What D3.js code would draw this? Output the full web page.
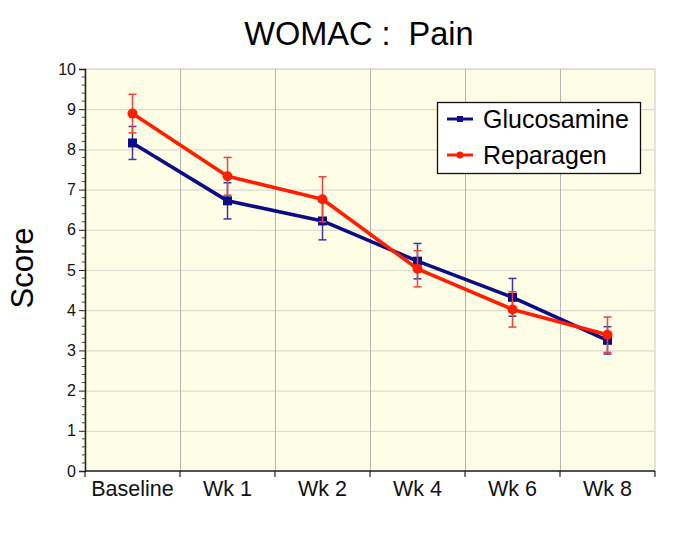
<!DOCTYPE html>
<html>
<head>
<meta charset="utf-8">
<script src="https://cdn.jsdelivr.net/npm/d3@7"></script>
<style>
  html, body { margin: 0; padding: 0; background: #fff; }
  svg { display: block; font-family: "Liberation Sans", Arial, Helvetica, sans-serif; }
</style>
</head>
<body>
<svg id="chart" width="685" height="540"></svg>
<script>
const categories = ["Baseline", "Wk 1", "Wk 2", "Wk 4", "Wk 6", "Wk 8"];
const seriesNames = ["Glucosamine", "Reparagen"];
const glucosamine = [8.16, 6.72, 6.22, 5.22, 4.32, 3.25];
const glucosamineErr = [0.41, 0.45, 0.47, 0.44, 0.47, 0.34];
const reparagen = [8.89, 7.33, 6.76, 5.03, 4.02, 3.39];
const reparagenErr = [0.48, 0.47, 0.56, 0.45, 0.44, 0.44];
const yTicks = [0, 1, 2, 3, 4, 5, 6, 7, 8, 9, 10];

const svg = d3.select("#chart");
const M = { left: 85, right: 655, top: 69, bottom: 471 };

const x = d3.scaleBand().domain(categories).range([M.left, M.right]).padding(0);
const y = d3.scaleLinear().domain([0, 10]).range([M.bottom, M.top]);

// background
svg.append("rect").attr("x", M.left).attr("y", M.top)
  .attr("width", M.right - M.left).attr("height", M.bottom - M.top)
  .attr("fill", "#fefde6").attr("stroke", "#c8c8c0").attr("stroke-width", 1);

// horizontal grid
svg.append("g").selectAll("line").data(yTicks.slice(1)).join("line")
  .attr("x1", M.left).attr("x2", M.right)
  .attr("y1", d => y(d) + 0.5).attr("y2", d => y(d) + 0.5)
  .attr("stroke", "#dcdcd0").attr("stroke-width", 1.2);

// vertical grid at category boundaries
svg.append("g").selectAll("line").data(categories.slice(1)).join("line")
  .attr("x1", d => x(d) + 0.5).attr("x2", d => x(d) + 0.5)
  .attr("y1", M.top).attr("y2", M.bottom)
  .attr("stroke", "#b4b4b0").attr("stroke-width", 1);

// Y axis
const yAxis = d3.axisLeft(y).tickValues(yTicks).tickSize(6).tickPadding(3).tickFormat(d3.format("d"));
const gy = svg.append("g").attr("transform", `translate(${M.left},0)`).call(yAxis);
gy.select(".domain").attr("stroke", "#222").attr("stroke-width", 1.5);
gy.selectAll(".tick line").attr("stroke", "#222");
gy.selectAll(".tick text").attr("font-size", 16).attr("fill", "#111")
  .attr("font-family", "'Liberation Sans', Arial, sans-serif");
// minor ticks
const minor = d3.range(0, 10.001, 0.2).filter(v => Math.abs(v - Math.round(v)) > 0.01);
svg.append("g").selectAll("line").data(minor).join("line")
  .attr("x1", M.left - 3).attr("x2", M.left)
  .attr("y1", d => y(d)).attr("y2", d => y(d))
  .attr("stroke", "#444").attr("stroke-width", 1);

// X axis
const boundaries = categories.map(c => x(c)).concat([M.right]);
svg.append("line").attr("x1", M.left).attr("x2", M.right)
  .attr("y1", M.bottom).attr("y2", M.bottom)
  .attr("stroke", "#222").attr("stroke-width", 1.5);
svg.append("g").selectAll("line").data(boundaries).join("line")
  .attr("x1", d => d).attr("x2", d => d)
  .attr("y1", M.bottom).attr("y2", M.bottom + 6)
  .attr("stroke", "#222").attr("stroke-width", 1.2);
svg.append("g").selectAll("text").data(categories).join("text")
  .attr("x", d => x(d) + x.bandwidth() / 2)
  .attr("y", 496)
  .attr("text-anchor", "middle")
  .attr("font-size", 21.5)
  .attr("fill", "#111")
  .text(d => d);

// series
const series = [
  { name: seriesNames[0], values: glucosamine, err: glucosamineErr, color: "#0c0c86", errColor: "#3a3a9a", marker: "square" },
  { name: seriesNames[1], values: reparagen, err: reparagenErr, color: "#ff1f00", errColor: "#f04040", marker: "circle" }
];
const cx = c => x(c) + x.bandwidth() / 2;
const line = d3.line().x(d => cx(d.c)).y(d => y(d.v));

series.forEach(s => {
  const pts = categories.map((c, i) => ({ c, v: s.values[i], e: s.err[i] }));
  svg.append("path").datum(pts).attr("d", line)
    .attr("fill", "none").attr("stroke", s.color).attr("stroke-width", 3.6)
    .attr("stroke-linejoin", "round");
  const g = svg.append("g");
  g.selectAll("line.v").data(pts).join("line")
    .attr("x1", d => cx(d.c)).attr("x2", d => cx(d.c))
    .attr("y1", d => y(d.v + d.e)).attr("y2", d => y(d.v - d.e))
    .attr("stroke", s.errColor).attr("stroke-width", 1.5);
  [1, -1].forEach(sign => {
    g.selectAll(null).data(pts).join("line")
      .attr("x1", d => cx(d.c) - 4).attr("x2", d => cx(d.c) + 4)
      .attr("y1", d => y(d.v + sign * d.e)).attr("y2", d => y(d.v + sign * d.e))
      .attr("stroke", s.errColor).attr("stroke-width", 1.5);
  });
  if (s.marker === "square") {
    g.selectAll("rect").data(pts).join("rect")
      .attr("x", d => cx(d.c) - 4.5).attr("y", d => y(d.v) - 4.5)
      .attr("width", 9).attr("height", 9).attr("fill", s.color);
  } else {
    g.selectAll("circle").data(pts).join("circle")
      .attr("cx", d => cx(d.c)).attr("cy", d => y(d.v)).attr("r", 5).attr("fill", s.color);
  }
});

// legend
const leg = svg.append("g");
leg.append("rect").attr("x", 437.5).attr("y", 102.5).attr("width", 203).attr("height", 71)
  .attr("fill", "#fff").attr("stroke", "#111").attr("stroke-width", 1.3);
series.forEach((s, i) => {
  const ly = 119 + i * 36;
  leg.append("line").attr("x1", 447).attr("x2", 473).attr("y1", ly).attr("y2", ly)
    .attr("stroke", s.color).attr("stroke-width", 3);
  if (s.marker === "square") {
    leg.append("rect").attr("x", 457).attr("y", ly - 3).attr("width", 6).attr("height", 6).attr("fill", s.color);
  } else {
    leg.append("circle").attr("cx", 460).attr("cy", ly).attr("r", 3.5).attr("fill", s.color);
  }
  leg.append("text").attr("x", 483).attr("y", ly + 9)
    .attr("font-size", 25).attr("fill", "#000").text(s.name);
});

// title
svg.append("text").attr("x", 359).attr("y", 45).attr("text-anchor", "middle")
  .attr("font-size", 32.5).attr("fill", "#000").style("white-space", "pre")
  .text("WOMAC :  Pain");

// y label
svg.append("text").attr("transform", "translate(33,268) rotate(-90)")
  .attr("text-anchor", "middle").attr("font-size", 31).attr("fill", "#000")
  .text("Score");
</script>
</body>
</html>
